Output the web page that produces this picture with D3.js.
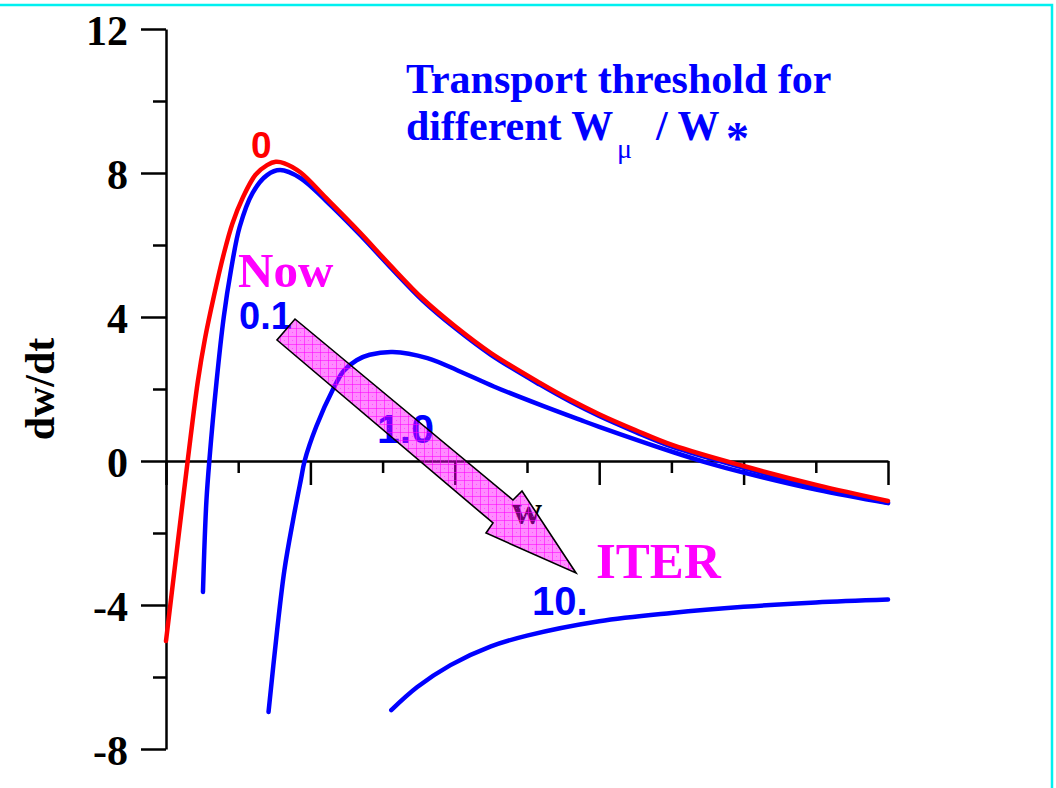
<!DOCTYPE html>
<html>
<head>
<meta charset="utf-8">
<script src="https://cdn.jsdelivr.net/npm/d3@7"></script>
<style>
  html, body { margin: 0; padding: 0; background: #ffffff; }
  svg { display: block; }
</style>
</head>
<body>
<div id="chart"></div>
<script>
// ---------------- DATA ----------------
const seriesNames = ["0", "0.1", "1.0", "10."];
const seriesColors = ["#ff0000", "#0000ff", "#0000ff", "#0000ff"];

const w0  = [0.0, 0.15, 0.22, 0.27, 0.33, 0.40, 0.46, 0.53, 0.62, 0.70, 0.76, 0.82, 0.93, 1.11, 1.34, 1.55, 1.78, 2.0, 2.25, 2.59, 2.8, 3.0, 3.25, 3.51, 4.0, 4.51, 5.0];
const v0  = [-5.0, 0.0, 2.2, 3.4, 4.55, 5.75, 6.6, 7.3, 7.95, 8.22, 8.31, 8.27, 8.02, 7.3, 6.36, 5.45, 4.5, 3.75, 3.0, 2.17, 1.7, 1.3, 0.86, 0.44, -0.14, -0.67, -1.11];

const w01 = [0.256, 0.265, 0.28, 0.30, 0.35, 0.40, 0.45, 0.51, 0.60, 0.70, 0.79, 0.93, 1.11, 1.34, 1.55, 1.78, 2.0, 2.25, 2.59, 2.8, 3.0, 3.25, 3.51, 4.0, 4.51, 5.0];
const v01 = [-3.64, -2.5, -1.1, 0.0, 2.2, 4.0, 5.3, 6.5, 7.45, 7.94, 8.08, 7.86, 7.22, 6.3, 5.4, 4.45, 3.7, 2.95, 2.12, 1.65, 1.25, 0.81, 0.39, -0.19, -0.72, -1.16];

const w1  = [0.71, 0.77, 0.82, 0.88, 0.935, 0.96, 1.04, 1.16, 1.23, 1.32, 1.41, 1.57, 1.81, 2.04, 2.27, 2.61, 2.87, 3.0, 3.51, 3.75, 4.0, 4.51, 5.0];
const v1  = [-6.97, -4.69, -3.03, -1.64, -0.5, 0.0, 0.95, 2.02, 2.5, 2.8, 2.95, 3.03, 2.86, 2.48, 2.07, 1.53, 1.14, 0.95, 0.25, -0.05, -0.32, -0.8, -1.17];

const w10 = [1.56, 1.74, 1.97, 2.25, 2.5, 3.0, 3.5, 4.0, 4.5, 5.0];
const v10 = [-6.92, -6.28, -5.67, -5.15, -4.85, -4.45, -4.22, -4.05, -3.93, -3.85];

const xMajorTicks = [0, 1, 2, 3, 4, 5];
const xMinorTicks = [0.5, 1.5, 2.5, 3.5, 4.5];
const yMajorTicks = [-8, -4, 0, 4, 8, 12];
const yMinorTicks = [-6, -2, 2, 6, 10];

const xLabel = "w";
const yLabel = "dw/dt";
const titleLine1 = "Transport threshold for";

// ---------------- CHART ----------------
const W = 1056, H = 788;
const svg = d3.select("#chart").append("svg")
  .attr("width", W).attr("height", H);

svg.append("rect").attr("width", W).attr("height", H).attr("fill", "#ffffff");

// cyan frame (top + right visible)
svg.append("path")
  .attr("d", "M0,5 H1052 V788")
  .attr("fill", "none").attr("stroke", "#00f0f0").attr("stroke-width", 2.5);

const x = d3.scaleLinear().domain([0, 5]).range([166, 888]);
const y = d3.scaleLinear().domain([-8, 12]).range([749, 29]);

const serif = "'Liberation Serif', 'Times New Roman', serif";
const sans = "'Liberation Sans', Arial, sans-serif";

// y axis
const gy = svg.append("g").attr("transform", `translate(${x(0)},0)`);
gy.call(d3.axisLeft(y).tickValues(yMajorTicks).tickSize(25).tickSizeOuter(0).tickPadding(13).tickFormat(d => String(d)));
const gyMinor = svg.append("g").attr("transform", `translate(${x(0)},0)`);
gyMinor.call(d3.axisLeft(y).tickValues(yMinorTicks).tickSize(13).tickSizeOuter(0).tickFormat(""));
gyMinor.select(".domain").remove();

// x axis
const gx = svg.append("g").attr("transform", `translate(0,${y(0)})`);
gx.call(d3.axisBottom(x).tickValues(xMajorTicks).tickSize(24).tickSizeOuter(0).tickFormat(""));
const gxMinor = svg.append("g").attr("transform", `translate(0,${y(0)})`);
gxMinor.call(d3.axisBottom(x).tickValues(xMinorTicks).tickSize(12).tickSizeOuter(0).tickFormat(""));
gxMinor.select(".domain").remove();

svg.selectAll(".domain, .tick line")
  .attr("stroke", "#000").attr("stroke-width", 2.5);
gy.selectAll(".tick text")
  .attr("font-family", serif).attr("font-weight", "bold")
  .attr("font-size", 42).attr("fill", "#000").attr("dy", "0.38em");

// axis labels
svg.append("text")
  .attr("x", (x(0) + x(5)) / 2).attr("y", 524)
  .attr("text-anchor", "middle")
  .attr("font-family", serif).attr("font-weight", "bold").attr("font-size", 42)
  .attr("fill", "#000").text(xLabel);

svg.append("text")
  .attr("transform", `translate(54,${(y(12) + y(-8)) / 2}) rotate(-90)`)
  .attr("text-anchor", "middle")
  .attr("font-family", serif).attr("font-weight", "bold").attr("font-size", 42)
  .attr("fill", "#000").text(yLabel);

// curves
const series = [
  { w: w0, v: v0, c: seriesColors[0] },
  { w: w01, v: v01, c: seriesColors[1] },
  { w: w1, v: v1, c: seriesColors[2] },
  { w: w10, v: v10, c: seriesColors[3] },
];
const line = d3.line().x(d => x(d[0])).y(d => y(d[1])).curve(d3.curveCatmullRom.alpha(0.5));
// draw blue curves first so red sits on top
[series[1], series[2], series[3], series[0]].forEach(s => {
  svg.append("path")
    .datum(s.w.map((wv, i) => [wv, s.v[i]]))
    .attr("d", line)
    .attr("fill", "none").attr("stroke", s.c)
    .attr("stroke-width", 4.5).attr("stroke-linecap", "round");
});

// curve labels
function label(txt, px, py, color, family, size) {
  svg.append("text").attr("x", px).attr("y", py)
    .attr("font-family", family).attr("font-weight", "bold")
    .attr("font-size", size).attr("fill", color).text(txt);
}
label(seriesNames[0], 251, 158, "#ff0000", sans, 37);
label("Now", 238, 287, "#ff00ff", serif, 49);
label(seriesNames[1], 239, 329, "#0000ff", sans, 38);
label(seriesNames[2], 377, 443, "#0000ff", sans, 41);
label(seriesNames[3], 532, 615, "#0000ff", sans, 40);
label("ITER", 596, 578, "#ff00ff", serif, 51);

// title
label(titleLine1, 406, 93, "#0000ff", serif, 42);
label("different W", 406, 140, "#0000ff", serif, 42);
svg.append("text").attr("x", 617).attr("y", 158)
  .attr("font-family", serif).attr("font-size", 28).attr("fill", "#0000ff").text("\u03bc");
label("/ W", 656, 140, "#0000ff", serif, 42);
label("*", 726, 154, "#0000ff", serif, 46);

// arrow with hatched semi-transparent fill
const defs = svg.append("defs");
const pat = defs.append("pattern").attr("id", "hatch")
  .attr("patternUnits", "userSpaceOnUse").attr("width", 8).attr("height", 8);
pat.append("rect").attr("width", 8).attr("height", 8).attr("fill", "#ff00ff").attr("fill-opacity", 0.45);
pat.append("rect").attr("x", 0).attr("y", 0).attr("width", 8).attr("height", 1).attr("fill", "#ff00ff").attr("fill-opacity", 0.55);
pat.append("rect").attr("x", 0).attr("y", 0).attr("width", 1).attr("height", 8).attr("fill", "#ff00ff").attr("fill-opacity", 0.55);
pat.append("rect").attr("x", 4).attr("y", 4).attr("width", 1).attr("height", 1).attr("fill", "#ff00ff").attr("fill-opacity", 0.4);

const arrowPts = [[295, 319], [513, 500], [522, 491], [576, 573], [486, 533], [493, 523], [277, 340]];
svg.append("path")
  .attr("d", "M" + arrowPts.map(p => p.join(",")).join("L") + "Z")
  .attr("fill", "url(#hatch)")
  .attr("stroke", "#000").attr("stroke-width", 1.6).attr("stroke-linejoin", "miter");
</script>
</body>
</html>
